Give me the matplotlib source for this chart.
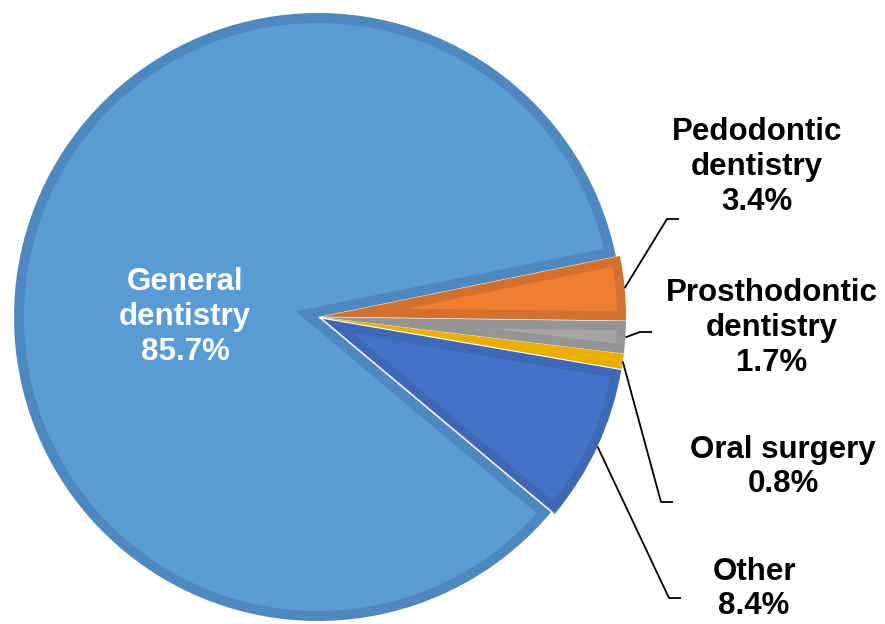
import numpy as np
import matplotlib
matplotlib.use("Agg")
import matplotlib.pyplot as plt
from matplotlib.patches import Polygon

# data (clockwise from the upper right, like the original)
labels = ['Pedodontic\ndentistry', 'Prosthodontic\ndentistry', 'Oral surgery', 'Other', 'General\ndentistry']
shares = [3.4, 1.7, 0.8, 8.4, 85.7]
fills = ['#ED7D31', '#A5A5A5', '#FFC000', '#4472C4', '#5B9BD5']
borders = ['#D3702D', '#959595', '#E8AE00', '#3E67B5', '#4F88BE']

W, H = 885, 624
cx, cy, R = 318, H - 317, 304
start = 11.5


def inner_part(w, b):
    """polygon of wedge w shrunk by a border of width b (inner fill)"""
    t1, t2 = w.theta1, w.theta2
    half = np.deg2rad((t2 - t1) / 2)
    mid = np.deg2rad((t1 + t2) / 2)
    d = b / np.sin(half)
    px = w.center[0] + d * np.cos(mid)
    py = w.center[1] + d * np.sin(mid)
    delta = np.rad2deg(np.arcsin(b / (w.r - b)))
    a1, a2 = t1 + delta, t2 - delta
    # skip slices too thin to have an inner part
    if a2 <= a1 or d > w.r - b:
        return None
    th = np.deg2rad(np.linspace(a1, a2, 200))
    xs = w.center[0] + (w.r - b) * np.cos(th)
    ys = w.center[1] + (w.r - b) * np.sin(th)
    pts = np.column_stack([np.r_[px, xs], np.r_[py, ys]])
    return pts


fig = plt.figure(figsize=(W / 100, H / 100), dpi=100)
ax = fig.add_axes([0, 0, 1, 1])

wedges, _ = ax.pie(shares, colors=borders, startangle=start, counterclock=False,
                   radius=R, center=(cx, cy), explode=[4, 4, 4, 4, 0],
                   wedgeprops=dict(linewidth=0))
for i, w in enumerate(wedges):
    pts = inner_part(w, 10 if i == 4 else 9)
    if pts is not None:
        ax.add_patch(Polygon(pts, closed=True, facecolor=fills[i], edgecolor='none'))

# thin light seam between "Other" and the big slice
seam = np.deg2rad(wedges[3].theta1)
ox, oy = wedges[3].center
ax.plot([ox, ox + (R - 2) * np.cos(seam)], [oy, oy + (R - 2) * np.sin(seam)],
        color='#E4ECF7', lw=0.9)

ax.set_xlim(0, W)
ax.set_ylim(0, H)
ax.set_aspect('equal')
ax.axis('off')

font = dict(family=['Liberation Sans', 'DejaVu Sans'], fontweight='bold', fontsize=22.5,
            ha='center', va='center', linespacing=1.2)

# inside label for the big slice
ax.text(185, H - 317, f"{labels[4]}\n{shares[4]}%", color='white', **font)

# outside labels with leader lines: (text centre, elbow, end of short tick)
label_pos = [(757, 167), (772, 328), (783, 467), (754, 589)]
elbows = [(667, 219), (640, 332), (661, 502), (669, 598)]
tick_len = 12

angles = np.cumsum([0] + shares[:-1])
for i in range(4):
    mid = np.deg2rad(start - (angles[i] + shares[i] / 2) * 3.6)
    ax0 = cx + (R + 4) * np.cos(mid)
    ay0 = cy + (R + 4) * np.sin(mid)
    ex, ey = elbows[i][0], H - elbows[i][1]
    ax.plot([ax0, ex, ex + tick_len], [ay0, ey, ey], color='black', lw=1.3,
            solid_capstyle='butt')
    tx, ty = label_pos[i]
    ax.text(tx, H - ty, f"{labels[i]}\n{shares[i]}%", color='black', **font)

fig.savefig('out.png', dpi=100)
